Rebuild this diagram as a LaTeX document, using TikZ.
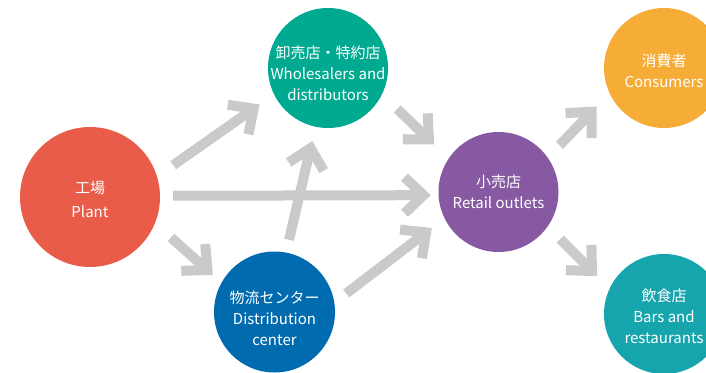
\documentclass[tikz,border=0pt]{standalone}
\usepackage{fontspec}
\setmainfont{Noto Sans CJK JP}
\usetikzlibrary{arrows.meta}
\definecolor{PlantRed}{HTML}{E95C4A}
\definecolor{WholeGreen}{HTML}{00AA91}
\definecolor{DistBlue}{HTML}{006CAF}
\definecolor{RetailViolet}{HTML}{8759A2}
\definecolor{ConsOrange}{HTML}{F5AD38}
\definecolor{BarsTeal}{HTML}{17A5AD}
\definecolor{FlowGray}{HTML}{C9CACA}

\begin{document}
\begin{tikzpicture}[x=1pt, y=-1pt,
station/.style={circle, inner sep=0, draw=none, minimum size=120pt},
caption/.style={text=white, align=center, inner sep=0, font=\fontsize{15}{21}\selectfont},
flow/.style={draw=FlowGray, line width=10pt, -{Straight Barb[length=19pt, width=36pt]}},
]
%%%%%%%%% SIZE OF THE PICTURE %%%%%%%%%
\useasboundingbox (0,0) rectangle (706,372);
\clip (0,0) rectangle (706,372);

%%%%%%%%% STATIONS %%%%%%%%%
\node[station, fill=PlantRed, minimum size=140pt,
      label={[caption, yshift=-2pt]center:{工場\\[3pt]Plant}}] (plant) at (90,197) {};
\node[station, fill=WholeGreen,
      label={[caption, yshift=-5pt]center:{卸売店・特約店\\Wholesalers and\\distributors}}] (whole) at (328,68) {};
\node[station, fill=DistBlue, minimum size=121pt,
      label={[caption, yshift=-6pt]center:{物流センター\\Distribution\\center}}] (dist) at (274.5,312) {};
\node[station, fill=RetailViolet,
      label={[caption]center:{小売店\\Retail outlets}}] (retail) at (498.5,192) {};
\node[station, fill=ConsOrange,
      label={[caption, yshift=-3pt]center:{消費者\\Consumers}}] (cons) at (664,68) {};
\node[station, fill=BarsTeal,
      label={[caption, yshift=-2pt]center:{飲食店\\Bars and\\restaurants}}] (bars) at (664,314) {};

%%%%%%%%% FLOWS %%%%%%%%%
\draw[flow, shorten <=19.6pt, shorten >=17.5pt] (plant.17.3) -- (whole.206.7);
\draw[flow, shorten <=13pt, shorten >=7.6pt] (plant.1.2) -- (retail.183.3);
\draw[flow, shorten <=21.4pt, shorten >=11.5pt] (plant.338.5) -- (dist.151);
\draw[flow, shorten <=21pt, shorten >=20pt] (whole.334) -- (retail.146.6);
\draw[flow, shorten <=13pt, shorten >=14.5pt] (dist.79.1) -- (whole.258.9);
\draw[flow, shorten <=14.8pt, shorten >=15.8pt] (dist.9.5) -- (retail.206.1);
\draw[flow, shorten <=16.8pt, shorten >=18.3pt] (retail.35.8) -- (cons.205.7);
\draw[flow, shorten <=17.6pt, shorten >=17.5pt] (retail.325) -- (bars.155.9);
\end{tikzpicture}
\end{document}
